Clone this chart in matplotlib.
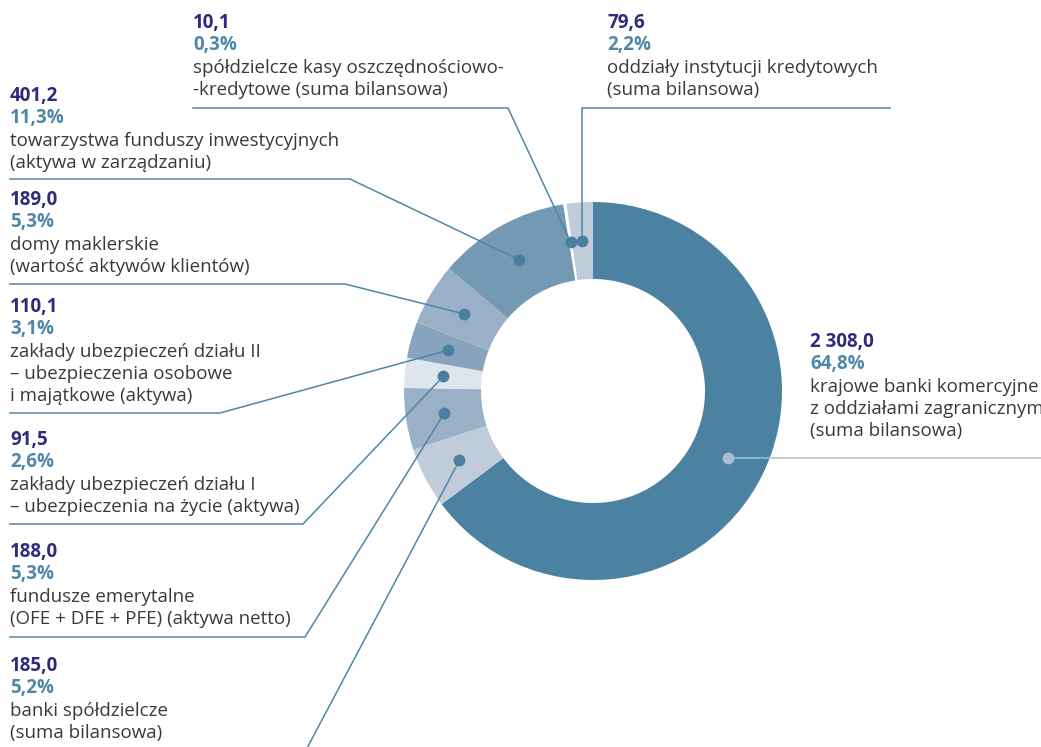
import numpy as np
import matplotlib
matplotlib.use('Agg')
import matplotlib.pyplot as plt

plt.rcParams['font.family'] = ['Open Sans', 'DejaVu Sans']

# data (mld zł), clockwise from 12 o'clock
values = [2308.0, 185.0, 188.0, 91.5, 110.1, 189.0, 401.2, 10.1, 79.6]
shares = [64.8, 5.2, 5.3, 2.6, 3.1, 5.3, 11.3, 0.3, 2.2]
descriptions = [
    'krajowe banki komercyjne\nz oddziałami zagranicznym\n(suma bilansowa)',
    'banki spółdzielcze\n(suma bilansowa)',
    'fundusze emerytalne\n(OFE + DFE + PFE) (aktywa netto)',
    'zakłady ubezpieczeń działu I\n– ubezpieczenia na życie (aktywa)',
    'zakłady ubezpieczeń działu II\n– ubezpieczenia osobowe\ni majątkowe (aktywa)',
    'domy maklerskie\n(wartość aktywów klientów)',
    'towarzystwa funduszy inwestycyjnych\n(aktywa w zarządzaniu)',
    'spółdzielcze kasy oszczędnościowo-\n-kredytowe (suma bilansowa)',
    'oddziały instytucji kredytowych\n(suma bilansowa)',
]
colors = ['#4c82a1', '#c1ccdb', '#9ab0c7', '#dfe5ec', '#88a3bd',
          '#9ab0c7', '#7499b4', '#ffffff', '#c1ccdb']

# label layout in pixel coords (y from top): text x, first line y, underline y, x0, elbow x
layout = [
    (810, 342, None, None, None),
    (10, 666, 752, 10, 305),
    (10, 552, 637, 10, 305),
    (10, 440, 524, 10, 303),
    (10, 307, 413, 10, 220),
    (10, 200, 284, 10, 345),
    (10, 96, 179, 10, 350),
    (193, 23, 108, 193, 508),
    (607, 23, 108, 890, None),
]

W, H = 1041, 747
NUM_C = '#2f2a7c'
PCT_C = '#4f87a8'
TXT_C = '#3a3a3a'
LINE_C = '#4f87a8'
LH = 22.3
FS = 13.5

def fmt(v):
    s = f'{v:,.1f}'.replace(',', ' ').replace('.', ',')
    return s

fig = plt.figure(figsize=(W / 100, H / 100), dpi=100)
ax = fig.add_axes([0, 0, 1, 1])

cx, cy = 593, H - 391
R, width = 189, 77
wedges, _ = ax.pie(values, colors=colors, startangle=90, counterclock=False,
                   center=(cx, cy), radius=R, wedgeprops=dict(width=width),
                   frame=True)
ax.set_xlim(0, W)
ax.set_ylim(0, H)
ax.set_aspect('equal')
ax.axis('off')

rm = R - width / 2
for i, w in enumerate(wedges):
    ang = np.deg2rad((w.theta1 + w.theta2) / 2)
    dx, dy = cx + rm * np.cos(ang), cy + rm * np.sin(ang)
    tx, ty, uy, x0, ex = layout[i]
    if uy is None:
        lc = '#a9bfd1'
        ax.plot([dx, W], [dy, dy], color=lc, lw=1.1, zorder=3)
        ax.plot(dx, dy, 'o', ms=7.5, color=lc, zorder=4)
    else:
        if ex is None:
            ex = dx
        ax.plot([x0, ex, dx], [H - uy, H - uy, dy], color=LINE_C, lw=1.1,
                zorder=3, solid_joinstyle='miter')
        ax.plot(dx, dy, 'o', ms=7.5, color='#4a7fa0', zorder=4)

    y = H - ty
    ax.text(tx, y, fmt(values[i]), color=NUM_C, fontsize=FS, fontweight='bold',
            va='center', ha='left')
    y -= LH
    ax.text(tx, y, f'{shares[i]:.1f}%'.replace('.', ','), color=PCT_C,
            fontsize=FS, fontweight='bold', va='center', ha='left')
    for line in descriptions[i].split('\n'):
        y -= LH
        ax.text(tx, y, line, color=TXT_C, fontsize=FS, va='center', ha='left')

fig.savefig('out.png', dpi=100, facecolor='white')
